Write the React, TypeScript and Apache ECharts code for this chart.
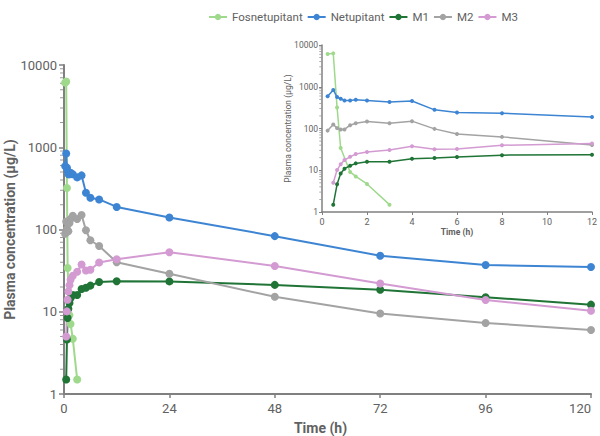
import React, { useEffect, useRef } from "react";
import * as echarts from "echarts";

const seriesNames = ["Fosnetupitant", "Netupitant", "M1", "M2", "M3"];
const colors = ["#9fd98c", "#3d85d3", "#1f7436", "#a3a3a3", "#d39bd2"];

const allTimes = [0.25, 0.5, 0.67, 0.83, 1, 1.25, 1.5, 2, 3, 4, 5, 6, 8, 12, 24, 48, 72, 96, 120];
const fosTimes = [0.25, 0.5, 0.67, 0.83, 1.25, 1.5, 2, 3];
const metTimes = [0.5, 0.67, 0.83, 1, 1.25, 1.5, 2, 3, 4, 5, 6, 8, 12, 24, 48, 72, 96, 120];

const fosnetupitant = [6100, 6300, 320, 34, 9.1, 7.1, 4.7, 1.5];
const netupitant = [590, 840, 565, 515, 470, 470, 490, 470, 430, 455, 280, 243, 232, 188, 140, 83, 48, 37, 35];
const m1 = [1.5, 4.6, 8.4, 10.9, 12.8, 14.6, 16.0, 16.0, 18.9, 19.6, 20.8, 23.0, 23.5, 23.4, 21.2, 18.5, 15, 12.2];
const m2 = [89, 125, 102, 95, 95, 120, 134, 147, 134, 150, 98, 74, 63, 40, 29, 15.2, 9.5, 7.3, 6.0];
const m3 = [5.0, 10.1, 14, 17.6, 21, 24.5, 27.4, 30.6, 37.5, 31.8, 32.4, 39.7, 43.5, 53, 36, 22, 13.9, 10.3];

const yTickLabels = ["1", "10", "100", "1000", "10000"];
const minorTicks = [2, 3, 4, 5, 6, 7, 8, 9, 20, 30, 40, 50, 60, 70, 80, 90, 200, 300, 400, 500, 600, 700, 800, 900, 2000, 3000, 4000, 5000, 6000, 7000, 8000, 9000];

const textColor = "#616161";
const axisColor = "#808080";
const FONT = "Roboto, sans-serif";

export default function App() {
  const ref = useRef<HTMLDivElement>(null);
  useEffect(() => {
    if (!ref.current) return;
    const chart = echarts.init(ref.current, null, { renderer: "svg" });
    const seriesData = [
      { t: fosTimes, v: fosnetupitant },
      { t: allTimes, v: netupitant },
      { t: metTimes, v: m1 },
      { t: allTimes, v: m2 },
      { t: metTimes, v: m3 },
    ];
    const pairs = (i: number, maxT: number) =>
      seriesData[i].t.map((t, k) => [t, seriesData[i].v[k]]).filter((p) => p[0] <= maxT);

    const mainSeries = seriesNames.map((name, i) => ({
      name,
      type: "line",
      xAxisIndex: 0,
      yAxisIndex: 0,
      data: pairs(i, 200),
      symbol: "circle",
      symbolSize: 8,
      color: colors[i],
      lineStyle: { width: 2, color: colors[i] },
      itemStyle: { color: colors[i] },
      z: 3,
    }));
    const insetSeries = seriesNames.map((name, i) => ({
      name,
      type: "line",
      xAxisIndex: 1,
      yAxisIndex: 1,
      data: pairs(i, 12),
      symbol: "circle",
      symbolSize: 4,
      color: colors[i],
      lineStyle: { width: 1.5, color: colors[i] },
      itemStyle: { color: colors[i] },
      z: 3,
    }));
    // minor ticks of the log axes, placed on the y axes through the axes' own scale
    const minorTickSeries = (xi: number, yi: number, len: number, w: number, off: number) => ({
      name: "minor",
      type: "scatter",
      xAxisIndex: xi,
      yAxisIndex: yi,
      data: minorTicks.map((v) => [0, v]),
      symbol: "rect",
      symbolSize: [len, w],
      symbolOffset: [off, 0],
      itemStyle: { color: axisColor },
      clip: false,
      silent: true,
      z: 1,
    });

    const mainGrid = { left: 64, right: 9, top: 65, bottom: 42, containLabel: false, outerBoundsMode: "none" };
    const insetGrid = { left: 322, right: 8, top: 45, bottom: 224, containLabel: false, outerBoundsMode: "none" };
    const yFmt = (v: number) => {
      const e = Math.round(Math.log10(v));
      return yTickLabels[e] ?? String(v);
    };

    const logAxis = (gridIndex: number, lw: number) => ({
      type: "log",
      gridIndex,
      position: "left",
      min: 1,
      max: 10000,
      logBase: 10,
      axisLine: { show: true, lineStyle: { color: axisColor, width: lw } },
      splitLine: { show: false },
    });

    chart.setOption({
      animation: false,
      backgroundColor: "#ffffff",
      textStyle: { fontFamily: FONT },
      legend: {
        top: 6,
        left: 203,
        itemWidth: 18,
        itemHeight: 8,
        itemGap: 4,
        data: seriesNames,
        textStyle: { color: textColor, fontSize: 11.5, fontFamily: FONT },
      },
      grid: [mainGrid, insetGrid],
      xAxis: [
        {
          type: "value",
          gridIndex: 0,
          min: 0,
          max: 120,
          interval: 24,
          name: "Time (h)",
          nameLocation: "middle",
          nameGap: 27,
          nameMoveOverlap: false,
          nameTextStyle: { color: textColor, fontSize: 14, fontWeight: "bold", fontFamily: FONT, padding: [0, 14, 0, 0] },
          axisLine: { show: true, lineStyle: { color: axisColor, width: 2 } },
          axisTick: { show: true, length: 4, lineStyle: { color: axisColor, width: 1.5 } },
          axisLabel: { color: textColor, fontSize: 13, margin: 8, fontFamily: FONT, alignMaxLabel: "right" },
          splitLine: { show: false },
        },
        {
          type: "value",
          gridIndex: 1,
          min: 0,
          max: 12,
          interval: 2,
          name: "Time (h)",
          nameLocation: "middle",
          nameGap: 15,
          nameMoveOverlap: false,
          nameTextStyle: { color: textColor, fontSize: 8.5, fontWeight: "bold", fontFamily: FONT },
          axisLine: { show: true, lineStyle: { color: axisColor, width: 1.5 } },
          axisTick: { show: true, length: 3, lineStyle: { color: axisColor, width: 1 } },
          axisLabel: { color: textColor, fontSize: 9, margin: 5, fontFamily: FONT },
          splitLine: { show: false },
        },
      ],
      yAxis: [
        {
          ...logAxis(0, 2),
          name: "Plasma concentration (μg/L)",
          nameLocation: "middle",
          nameGap: 47,
          nameMoveOverlap: false,
          nameTextStyle: { color: textColor, fontSize: 14, fontWeight: "bold", fontFamily: FONT },
          axisTick: { show: true, length: 5, lineStyle: { color: axisColor, width: 1.5 } },
          axisLabel: { color: textColor, fontSize: 13, margin: 7, fontFamily: FONT, formatter: yFmt },
        },
        {
          ...logAxis(1, 1.5),
          name: "Plasma concentration (μg/L)",
          nameLocation: "middle",
          nameGap: 30,
          nameMoveOverlap: false,
          nameTextStyle: { color: textColor, fontSize: 8.5, fontFamily: FONT },
          axisTick: { show: true, length: 3, lineStyle: { color: axisColor, width: 1 } },
          axisLabel: { color: textColor, fontSize: 8.5, margin: 4, fontFamily: FONT, formatter: yFmt },
        },
      ],
      series: [
        ...mainSeries,
        ...insetSeries,
        minorTickSeries(0, 0, 3, 1, -2.5),
        minorTickSeries(1, 1, 2, 0.8, -1.75),
      ],
    });
    return () => chart.dispose();
  }, []);
  return <div ref={ref} style={{ width: 600, height: 436, position: "fixed", left: 0, top: 0 }} />;
}
